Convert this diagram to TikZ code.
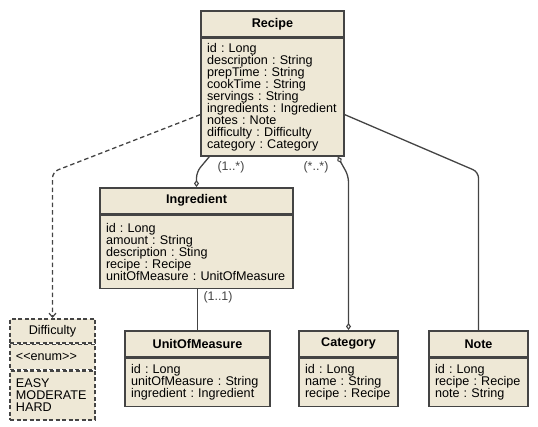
\documentclass[tikz,border=0pt]{standalone}
\usepackage{fontspec}
\setmainfont{Liberation Sans}
\usepackage{tikz}
\usetikzlibrary{positioning,calc,arrows.meta}
\definecolor{classfill}{RGB}{238,232,214}
\definecolor{classline}{RGB}{68,68,68}
\tikzstyle{classhead}=[draw=classline, fill=classfill, line width=1.5pt, anchor=north,
minimum height=26pt, inner sep=0pt, font=\fontsize{12.6}{12}\selectfont\bfseries]
\tikzstyle{classbody}=[draw=classline, fill=classfill, line width=1.5pt, inner xsep=6pt,
inner ysep=5pt, align=left, font=\fontsize{12.6}{12}\selectfont\frenchspacing]
\tikzstyle{enumhead} = [classhead, dash pattern=on 4pt off 2.5pt, minimum height=24pt,
font=\fontsize{12.6}{12}\selectfont]
\tikzstyle{enumpart} = [classbody, dash pattern=on 4pt off 2.5pt]
\tikzstyle{assoc} = [draw=classline, line width=1.3pt, rounded corners=6pt]
\tikzstyle{depend} = [assoc, dash pattern=on 4.5pt off 3pt, -{Straight Barb[length=4pt,width=7pt,line width=1.2pt]}]
\tikzstyle{mult} = [text=classline, inner sep=1pt, font=\fontsize{12.4}{12}\selectfont]
\newcommand{\umlhead}[3]{node (#1)[classhead, minimum width=#2]{#3}}
\newcommand{\umlbody}[4]{node (#1-b)[classbody, below=0pt of #1, text width=#2, minimum height=#3]{#4}}
\begin{document}
\begin{tikzpicture}[x=1pt,y=1pt,
  dia/.tip={Diamond[open,length=7pt,width=5pt,line width=1.1pt]}]
\useasboundingbox (0,0) rectangle (538,-426);

% Classes
\path (272.5,-10) \umlhead{recipe}{143pt}{Recipe};
\path \umlbody{recipe}{131pt}{117pt}{id : Long\\description : String\\prepTime : String\\
cookTime : String\\servings : String\\ingredients : Ingredient\\notes : Note\\
difficulty : Difficulty\\category : Category};

\path (196.5,-187) \umlhead{ingredient}{193pt}{Ingredient};
\path \umlbody{ingredient}{181pt}{73pt}{id : Long\\amount : String\\description : Sting\\
recipe : Recipe\\unitOfMeasure : UnitOfMeasure};

\path (197.5,-330) \umlhead{unit}{145pt}{UnitOfMeasure};
\path \umlbody{unit}{133pt}{48pt}{id : Long\\unitOfMeasure : String\\ingredient : Ingredient};

\path (348.5,-330) \umlhead{category}{99pt}{Category};
\path \umlbody{category}{87pt}{48pt}{id : Long\\name : String\\recipe : Recipe};

\path (478.5,-330) \umlhead{note}{99pt}{Note};
\path \umlbody{note}{87pt}{48pt}{id : Long\\recipe : Recipe\\note : String};

% Enum
\path (52.5,-318) node (difficulty)[enumhead, minimum width=85pt]{Difficulty};
\path node (difficulty-s)[enumpart, below=0pt of difficulty, text width=73pt,
  minimum height=25pt]{<{}<enum>{}>};
\path node (difficulty-b)[enumpart, below=0pt of difficulty-s, text width=73pt,
  minimum height=49pt]{EASY\\MODERATE\\HARD};

% Bends
\coordinate (dbend) at (52.5,-172);
\coordinate (ibend) at (196.5,-172);
\coordinate (cbend) at (348.5,-176);
\coordinate (nbend) at (478.5,-172);

% Connectors
\path [depend] ($(recipe-b.west)+(0,-17.5)$) -- (dbend) -- (difficulty.north);
\path [assoc,-dia] ($(recipe-b.south west)+(9,0)$) -- (ibend) -- (ingredient.north);
\path [assoc,dia-dia] ($(recipe-b.south east)+(-7,0)$) -- (cbend) -- (category.north);
\path [assoc] ($(recipe-b.east)+(0,-17.5)$) -- (nbend) -- (note.north);
\path [assoc] (unit.north |- ingredient-b.south) -- (unit.north);

% Multiplicities
\node [mult] (m-ing) at (231,-167) {(1..*)};
\node [mult] (m-cat) at (316,-167) {(*..*)};
\node [mult] (m-unit) at (218,-297) {(1..1)};

\end{tikzpicture}
\end{document}
